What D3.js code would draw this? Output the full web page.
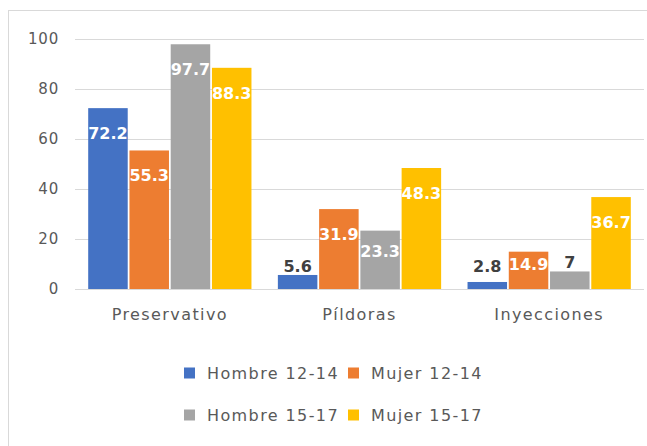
<!DOCTYPE html>
<html>
<head>
<meta charset="utf-8">
<script src="https://cdn.jsdelivr.net/npm/d3@7"></script>
<style>
  body { margin: 0; background: #fff; }
  text { font-family: "DejaVu Sans", sans-serif; }
</style>
</head>
<body>
<svg width="647" height="446"></svg>
<script>
// Data
const categories = ['Preservativo', 'Píldoras', 'Inyecciones']
const seriesNames = ['Hombre 12-14', 'Mujer 12-14', 'Hombre 15-17', 'Mujer 15-17']
const hombre1214 = [72.2, 5.6, 2.8]
const mujer1214 = [55.3, 31.9, 14.9]
const hombre1517 = [97.7, 23.3, 7]
const mujer1517 = [88.3, 48.3, 36.7]
const yTicks = [0, 20, 40, 60, 80, 100]

const seriesValues = [hombre1214, mujer1214, hombre1517, mujer1517]
const colors = ['#4472c4', '#ed7d31', '#a5a5a5', '#ffc000']

const svg = d3.select('svg')
const width = +svg.attr('width')
const height = +svg.attr('height')

// chart frame (only left and top edges visible)
svg.append('rect')
    .attr('x', 8.5)
    .attr('y', 10.5)
    .attr('width', width + 10)
    .attr('height', height + 10)
    .attr('fill', '#fff')
    .attr('stroke', '#d9d9d9')

const plotLeft = 75, plotRight = 644, plotTop = 38.5, plotBottom = 289

const x0 = d3.scaleBand()
    .domain(categories)
    .range([plotLeft, plotRight])
    .padding(0)

const x1 = d3.scaleBand()
    .domain(seriesNames)
    .range([0, x0.bandwidth()])
    .paddingInner(0.042)
    .paddingOuter(0.32)

const y = d3.scaleLinear()
    .domain([0, 100])
    .range([plotBottom, plotTop])

// gridlines
svg.append('g')
    .selectAll('line')
    .data(yTicks)
    .join('line')
        .attr('x1', plotLeft)
        .attr('x2', plotRight)
        .attr('y1', d => Math.round(y(d)) + 0.5)
        .attr('y2', d => Math.round(y(d)) + 0.5)
        .attr('stroke', '#d9d9d9')
        .attr('stroke-width', 1)

// y axis labels
const yAxis = svg.append('g')
    .attr('transform', `translate(${plotLeft - 16}, 0)`)
    .call(d3.axisLeft(y).tickValues(yTicks).tickSize(0).tickPadding(0))
yAxis.select('.domain').remove()
yAxis.selectAll('text')
    .attr('fill', '#595959')
    .style('font-size', '15px')
    .style('letter-spacing', '0.8px')
    .style('font-family', '"DejaVu Sans", sans-serif')

// x axis labels
const xAxis = svg.append('g')
    .attr('transform', `translate(0, ${plotBottom})`)
    .call(d3.axisBottom(x0).tickSize(0).tickPadding(20))
xAxis.select('.domain').remove()
xAxis.selectAll('text')
    .attr('fill', '#595959')
    .style('font-size', '16px')
    .style('letter-spacing', '1.4px')
    .style('font-family', '"DejaVu Sans", sans-serif')

// bars
const rows = categories.map((c, i) => ({
    cat: c,
    vals: seriesNames.map((s, j) => ({ cat: c, series: s, j: j, value: seriesValues[j][i] }))
}))

const groups = svg.append('g')
    .selectAll('g')
    .data(rows)
    .join('g')
        .attr('transform', d => `translate(${x0(d.cat)}, 0)`)

groups.selectAll('rect')
    .data(d => d.vals)
    .join('rect')
        .attr('x', d => x1(d.series))
        .attr('y', d => y(d.value))
        .attr('width', x1.bandwidth())
        .attr('height', d => y(0) - y(d.value))
        .attr('fill', d => colors[d.j])

// data labels
groups.selectAll('text.lbl')
    .data(d => d.vals)
    .join('text')
        .attr('class', 'lbl')
        .attr('x', d => x1(d.series) + x1.bandwidth() / 2)
        .attr('y', d => {
            const top = y(d.value)
            const h = y(0) - top
            if (d.value < 10) return Math.min(top - 9, 266)
            return top + Math.min(25, h * 0.35)
        })
        .attr('dy', '0.36em')
        .attr('text-anchor', 'middle')
        .attr('fill', d => d.value < 10 ? '#404040' : '#fff')
        .style('font-size', '16px')
        .style('font-weight', 'bold')
        .text(d => d.value)

// legend
const legendPos = [[184, 373], [348, 373], [184, 415], [348, 415]]
const legend = svg.append('g')
    .selectAll('g')
    .data(seriesNames)
    .join('g')
        .attr('transform', (d, i) => `translate(${legendPos[i][0]}, ${legendPos[i][1]})`)

legend.append('rect')
    .attr('x', 0)
    .attr('y', -5.5)
    .attr('width', 11)
    .attr('height', 11)
    .attr('fill', (d, i) => colors[i])

legend.append('text')
    .attr('x', 23)
    .attr('dy', '0.36em')
    .attr('fill', '#595959')
    .style('font-size', '16px')
    .style('letter-spacing', '1.4px')
    .text(d => d)
</script>
</body>
</html>
